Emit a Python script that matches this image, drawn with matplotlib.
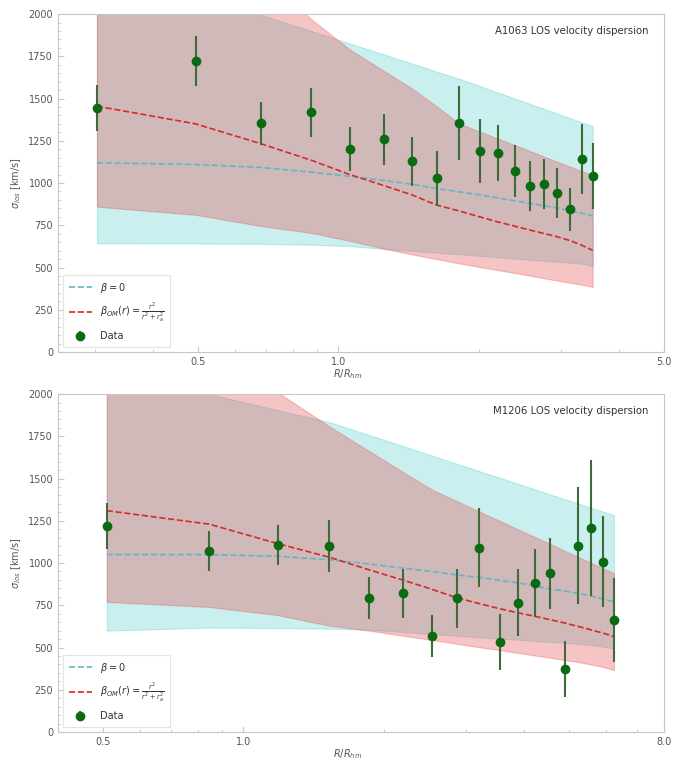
import numpy as np
import matplotlib
matplotlib.use("Agg")
import matplotlib.pyplot as plt
from matplotlib.ticker import FixedLocator, FormatStrFormatter, LogLocator, MultipleLocator, NullFormatter

# ---------------- A1063 ----------------
a1063_r = [0.303, 0.494, 0.683, 0.874, 1.058, 1.252, 1.438, 1.624, 1.816,
           2.009, 2.199, 2.39, 2.575, 2.76, 2.95, 3.14, 3.33, 3.515]
a1063_sigma = [1445, 1725, 1353, 1418, 1201, 1259, 1130, 1028, 1353,
               1189, 1176, 1073, 982, 994, 939, 844, 1142, 1041]
a1063_err = [135, 148, 126, 146, 128, 150, 145, 163, 219,
             190, 165, 153, 149, 148, 148, 127, 205, 197]
a1063_iso = [1120, 1110, 1092, 1065, 1040, 1015, 993, 968, 948,
             930, 912, 895, 880, 866, 852, 838, 822, 805]
a1063_iso_lo = [643, 642, 640, 635, 627, 610, 598, 588, 578,
                569, 561, 553, 546, 540, 534, 528, 523, 508]
a1063_iso_hi = [2300, 2120, 1996, 1900, 1826, 1761, 1708, 1660, 1617,
                1575, 1536, 1501, 1469, 1440, 1411, 1385, 1360, 1337]
a1063_om = [1455, 1350, 1232, 1135, 1050, 985, 930, 870, 835,
            800, 770, 745, 722, 702, 682, 660, 632, 602]
a1063_om_lo = [860, 812, 745, 705, 658, 612, 578, 550, 525,
               503, 485, 468, 452, 437, 423, 410, 398, 386]
a1063_om_hi = [3200, 2600, 2250, 1970, 1790, 1664, 1560, 1455, 1353,
               1305, 1263, 1225, 1190, 1157, 1126, 1098, 1070, 1047]

# ---------------- M1206 ----------------
m1206_r = [0.509, 0.845, 1.185, 1.527, 1.861, 2.198, 2.537, 2.871, 3.21,
           3.549, 3.892, 4.227, 4.552, 4.90, 5.236, 5.568, 5.925, 6.247]
m1206_sigma = [1219, 1073, 1107, 1102, 791, 821, 568, 791, 1091,
               533, 765, 883, 939, 371, 1102, 1205, 1008, 663]
m1206_err = [135, 118, 120, 155, 124, 145, 123, 175, 234,
             165, 197, 200, 212, 165, 347, 402, 268, 247]
m1206_iso = [1050, 1050, 1040, 1020, 995, 970, 950, 930, 915,
             898, 882, 866, 845, 835, 820, 805, 787, 770]
m1206_iso_lo = [600, 618, 615, 612, 605, 592, 580, 570, 561,
                553, 546, 539, 533, 527, 522, 515, 505, 495]
m1206_iso_hi = [2150, 2000, 1905, 1835, 1758, 1693, 1637, 1588, 1544,
                1505, 1469, 1436, 1407, 1378, 1352, 1328, 1304, 1284]
m1206_om = [1310, 1230, 1115, 1035, 960, 900, 845, 795, 760,
            730, 705, 685, 665, 645, 625, 605, 585, 565]
m1206_om_lo = [770, 740, 692, 630, 600, 570, 545, 522, 502,
               485, 468, 453, 440, 426, 414, 400, 385, 367]
m1206_om_hi = [2900, 2300, 2010, 1810, 1663, 1540, 1435, 1367, 1305,
               1250, 1199, 1154, 1113, 1072, 1036, 1002, 968, 939]

panels = [
    dict(name="A1063 LOS velocity dispersion", r=a1063_r, sig=a1063_sigma, err=a1063_err,
         iso=a1063_iso, iso_lo=a1063_iso_lo, iso_hi=a1063_iso_hi,
         om=a1063_om, om_lo=a1063_om_lo, om_hi=a1063_om_hi,
         xlim=(0.25, 5.0), xticks=[0.5, 1.0, 5.0]),
    dict(name="M1206 LOS velocity dispersion", r=m1206_r, sig=m1206_sigma, err=m1206_err,
         iso=m1206_iso, iso_lo=m1206_iso_lo, iso_hi=m1206_iso_hi,
         om=m1206_om, om_lo=m1206_om_lo, om_hi=m1206_om_hi,
         xlim=(0.4, 8.0), xticks=[0.5, 1.0, 8.0]),
]

fig = plt.figure(figsize=(6.73, 7.6), dpi=100)
rects = [[0.0862, 0.5368, 0.9004, 0.4447], [0.0862, 0.0368, 0.9004, 0.4447]]

spine_col = "#c8c8c8"
text_col = "#555555"
band_iso = (0.0, 0.72, 0.72)
band_om = (0.9, 0.3, 0.3)

for rect, p in zip(rects, panels):
    ax = fig.add_axes(rect)
    # isotropic band first, Osipkov-Merritt band layered on top
    ax.fill_between(p["r"], p["iso_lo"], p["iso_hi"], color=band_iso, alpha=0.21, lw=0.8)
    ax.fill_between(p["r"], p["om_lo"], p["om_hi"], color=band_om, alpha=0.33, lw=0.8)
    ax.plot(p["r"], p["iso"], ls="--", color="#5fb8c4", lw=1.2, label=r"$\beta = 0$")
    ax.plot(p["r"], p["om"], ls="--", color="#d42a2a", lw=1.2,
            label=r"$\beta_{OM}(r) = \frac{r^2}{r^2 + r_a^2}$")
    ax.errorbar(p["r"], p["sig"], yerr=p["err"], fmt="o", color="#0b6a12", ms=6,
                ecolor="#3f6a3a", elinewidth=1.5, capsize=0, label="Data")

    ax.set_xscale("log")
    ax.set_xlim(*p["xlim"])
    ax.set_ylim(0, 2000)
    ax.xaxis.set_major_locator(FixedLocator(p["xticks"]))
    ax.xaxis.set_major_formatter(FormatStrFormatter("%.1f"))
    ax.xaxis.set_minor_locator(LogLocator(base=10, subs=np.arange(2, 10), numticks=20))
    ax.xaxis.set_minor_formatter(NullFormatter())
    ax.yaxis.set_major_locator(MultipleLocator(250))
    ax.yaxis.set_minor_locator(MultipleLocator(50))
    ax.tick_params(which="both", direction="in", colors=spine_col, labelcolor=text_col,
                   labelsize=7)
    ax.tick_params(which="major", length=4)
    ax.tick_params(which="minor", length=2)
    for s in ax.spines.values():
        s.set_color(spine_col)
        s.set_linewidth(0.8)

    ax.set_xlabel(r"$R/R_{hm}$", fontsize=7, color=text_col, labelpad=2)
    ax.xaxis.set_label_coords(0.478, -0.045)
    ax.set_ylabel(r"$\sigma_{los}$ [km/s]", fontsize=7, color=text_col)
    ax.text(0.975, 0.965, p["name"], transform=ax.transAxes, ha="right", va="top",
            fontsize=7.3, color="#333333")
    leg = ax.legend(loc="lower left", fontsize=7, frameon=True, fancybox=False,
                    borderpad=0.6, labelspacing=0.7, handlelength=2.4)
    leg.get_frame().set_edgecolor("#dddddd")
    leg.get_frame().set_linewidth(0.8)
    for t in leg.get_texts():
        t.set_color("#333333")

fig.savefig("out.png", dpi=100)
